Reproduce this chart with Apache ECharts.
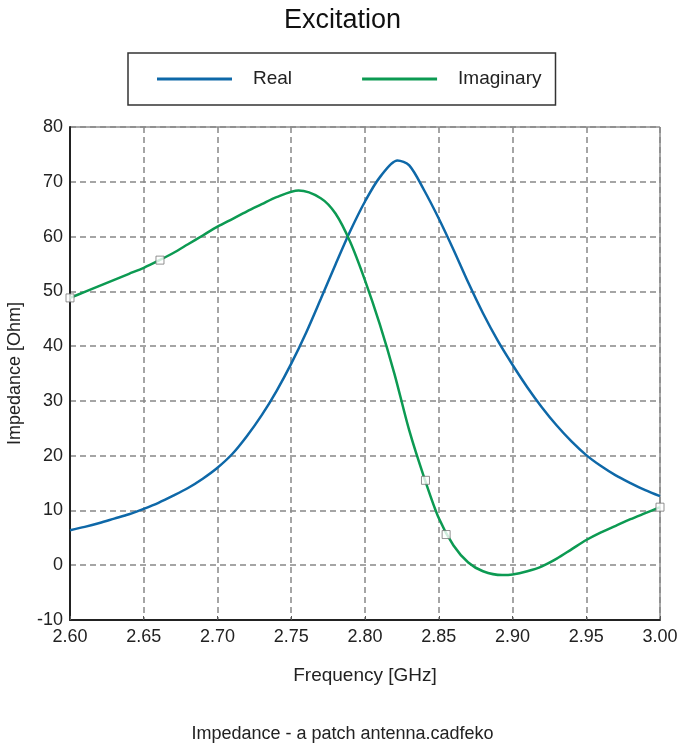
<!DOCTYPE html>
<html>
<head>
<meta charset="utf-8">
<script src="https://cdn.jsdelivr.net/npm/echarts@6/dist/echarts.min.js"></script>
<style>
html,body{margin:0;padding:0;background:#fff;}
#chart{width:685px;height:749px;}
</style>
</head>
<body>
<div id="chart"></div>
<script>
// Frequency [GHz] samples and values
var realFreq = [2.60,2.61,2.62,2.63,2.64,2.65,2.66,2.67,2.68,2.69,2.70,2.71,2.72,2.73,2.74,2.75,2.76,2.77,2.78,2.79,2.80,
                2.81,2.822,2.83,2.84,2.85,2.86,2.87,2.88,2.89,2.90,2.91,2.92,2.93,2.94,2.95,2.96,2.97,2.98,2.99,3.00];
var realVals = [6.4,7.0,7.7,8.5,9.3,10.3,11.4,12.7,14.1,15.8,17.8,20.3,23.6,27.4,31.8,36.8,42.4,48.6,54.9,61.0,66.4,
                70.8,73.9,73.0,68.5,63.3,57.6,51.6,46.0,41.0,36.6,32.5,28.8,25.5,22.6,20.1,18.1,16.4,15.0,13.7,12.6];

var imagFreq = [2.60,2.61,2.62,2.63,2.64,2.65,2.66,2.67,2.68,2.69,2.70,2.71,2.72,2.73,2.74,2.755,2.77,2.78,2.79,2.80,
                2.81,2.82,2.83,2.84,2.85,2.86,2.87,2.88,2.893,2.90,2.91,2.92,2.93,2.94,2.95,2.96,2.97,2.98,2.99,3.00];
var imagVals = [48.8,49.9,51.0,52.1,53.2,54.3,55.6,57.0,58.6,60.2,61.8,63.2,64.6,65.9,67.2,68.4,67.0,64.2,59.0,52.0,
                44.0,34.9,24.6,16.1,8.6,3.6,0.5,-1.1,-1.8,-1.7,-1.1,-0.2,1.2,2.9,4.6,6.0,7.2,8.4,9.5,10.6];

var markerFreq = [2.600,2.661,2.841,2.855,3.000];
var markerVals = [48.8,55.7,15.5,5.6,10.6];

var xTicks = {min:2.60, max:3.00, interval:0.05};
var yTicks = {min:-10, max:80, interval:10};

var seriesNames = ['Real','Imaginary'];
var titleText = 'Excitation';
var footerText = 'Impedance - a patch antenna.cadfeko';
var xName = 'Frequency [GHz]';
var yName = 'Impedance [Ohm]';

function pairs(xs, ys){ return xs.map(function(x,i){return [x, ys[i]];}); }

var FONT = '"Liberation Sans", Arial, sans-serif';
var chart = echarts.init(document.getElementById('chart'), null, {renderer:'canvas'});
chart.setOption({
  animation:false,
  backgroundColor:'#fff',
  title:[
    {text:titleText, left:'center', top:2, textStyle:{fontFamily:FONT, fontSize:27, fontWeight:'normal', color:'#111'}},
    {text:footerText, left:'center', top:720, textStyle:{fontFamily:FONT, fontSize:18, fontWeight:'normal', color:'#222'}}
  ],
  legend:{
    data:[{name:seriesNames[0], icon:'rect'},{name:seriesNames[1], icon:'rect'}],
    left:128, top:53,
    padding:[16,14,16,29],
    itemGap:70,
    itemWidth:75, itemHeight:3,
    borderColor:'#333', borderWidth:1.5,
    textStyle:{fontFamily:FONT, fontSize:19, color:'#222', padding:[0,0,0,16], lineHeight:20}
  },
  grid:{left:70, right:25, top:127, bottom:129, show:true, borderColor:'#555', borderWidth:1,
        containLabel:false, outerBoundsMode:'none'},
  xAxis:{
    type:'value', min:xTicks.min, max:xTicks.max, interval:xTicks.interval,
    name:xName, nameLocation:'middle', nameGap:46,
    nameTextStyle:{fontFamily:FONT, fontSize:19, color:'#222'},
    axisLine:{show:true, onZero:false, lineStyle:{color:'#222', width:2}},
    axisTick:{show:true, inside:true, length:4, lineStyle:{color:'#555'}},
    axisLabel:{fontFamily:FONT, fontSize:18, color:'#222', margin:8, formatter:function(v){return v.toFixed(2);}},
    splitLine:{show:true, lineStyle:{color:'#888', type:[6,4], width:1.5}}
  },
  yAxis:{
    type:'value', min:yTicks.min, max:yTicks.max, interval:yTicks.interval,
    name:yName, nameLocation:'middle', nameGap:46, nameRotate:90,
    nameTextStyle:{fontFamily:FONT, fontSize:18, color:'#222'},
    axisLine:{show:true, onZero:false, lineStyle:{color:'#222', width:2}},
    axisTick:{show:false},
    axisLabel:{fontFamily:FONT, fontSize:18, color:'#222', margin:7},
    splitLine:{show:true, lineStyle:{color:'#888', type:[6,4], width:1.5}}
  },
  series:[
    {name:seriesNames[0], type:'line', data:pairs(realFreq, realVals), smooth:0.3, showSymbol:false, symbol:'none',
     lineStyle:{color:'#0e68a8', width:2.5}, itemStyle:{color:'#0e68a8'}, z:3},
    {name:seriesNames[1], type:'line', data:pairs(imagFreq, imagVals), smooth:0.3, showSymbol:false, symbol:'none',
     lineStyle:{color:'#0c9a52', width:2.5}, itemStyle:{color:'#0c9a52'}, z:3},
    {name:'markers', type:'scatter', data:pairs(markerFreq, markerVals), symbol:'rect', symbolSize:8,
     itemStyle:{color:'#fff', borderColor:'#777', borderWidth:1}, z:5, silent:true}
  ]
});
</script>
</body>
</html>
